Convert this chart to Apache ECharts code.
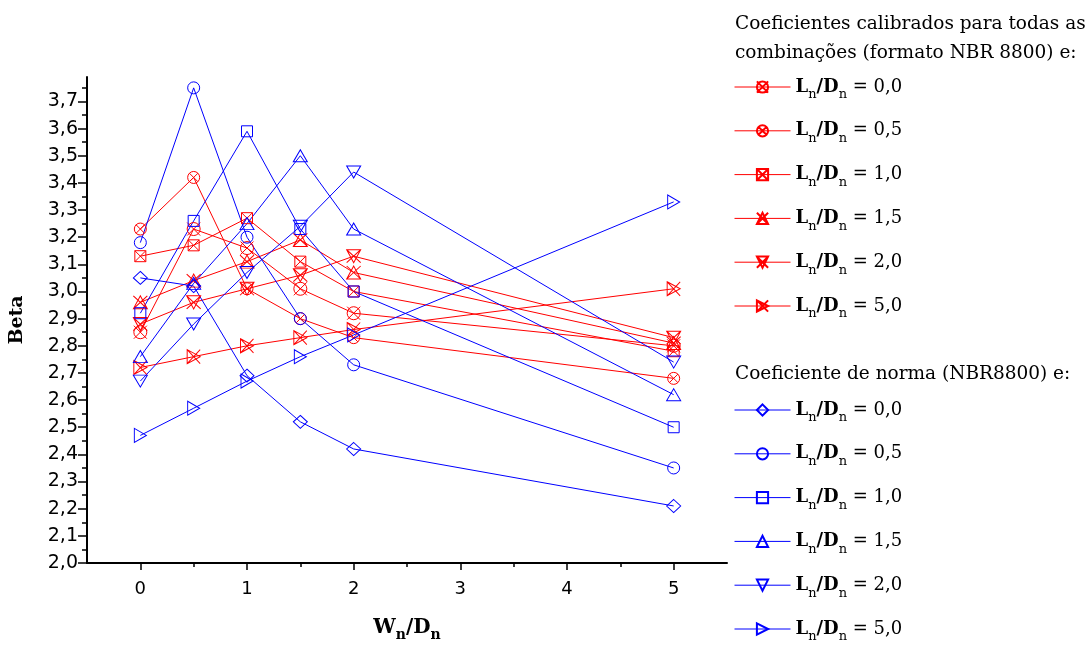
<!DOCTYPE html>
<html><head><meta charset="utf-8">
<script src="https://cdn.jsdelivr.net/npm/echarts@6/dist/echarts.min.js"></script>
<style>html,body{margin:0;padding:0;background:#fff}#c{width:1091px;height:646px}</style>
</head><body><div id="c"></div>
<script>
// ---- data ----
const xValues = [0, 0.5, 1, 1.5, 2, 5];
// calibrated coefficients (red)
const calib00 = [2.85, 3.23, 3.16, 3.01, 2.92, 2.80];
const calib05 = [3.23, 3.42, 3.01, 2.90, 2.83, 2.68];
const calib10 = [3.13, 3.17, 3.27, 3.11, 3.00, 2.78];
const calib15 = [2.96, 3.04, 3.11, 3.19, 3.07, 2.81];
const calib20 = [2.88, 2.96, 3.01, 3.06, 3.13, 2.83];
const calib50 = [2.72, 2.76, 2.80, 2.83, 2.86, 3.01];
// code coefficients NBR8800 (blue)
const norm00 = [3.05, 3.02, 2.69, 2.52, 2.42, 2.21];
const norm05 = [3.18, 3.75, 3.20, 2.90, 2.73, 2.35];
const norm10 = [2.92, 3.26, 3.59, 3.23, 3.00, 2.50];
const norm15 = [2.76, 3.03, 3.25, 3.50, 3.23, 2.62];
const norm20 = [2.67, 2.88, 3.07, 3.24, 3.44, 2.74];
const norm50 = [2.47, 2.57, 2.67, 2.76, 2.84, 3.33];
const ratioLabels = ['0,0', '0,5', '1,0', '1,5', '2,0', '5,0'];
const xTickValues = [0, 1, 2, 3, 4, 5];
const xMinorTickValues = [0.5, 1.5, 2.5, 3.5, 4.5];
const yTickValues = [2.0, 2.1, 2.2, 2.3, 2.4, 2.5, 2.6, 2.7, 2.8, 2.9, 3.0, 3.1, 3.2, 3.3, 3.4, 3.5, 3.6, 3.7];
const yMinorTickValues = [2.05, 2.15, 2.25, 2.35, 2.45, 2.55, 2.65, 2.75, 2.85, 2.95, 3.05, 3.15, 3.25, 3.35, 3.45, 3.55, 3.65, 3.75];
const headerCalib = 'Coeficientes calibrados para todas as\ncombinações (formato NBR 8800) e:';
const headerNorm = 'Coeficiente de norma (NBR8800) e:';
const yAxisTitle = 'Beta';

// ---- styling ----
const RED = '#ff0000', BLUE = '#0000ff';
const X = ' M0,0 L10,10 M10,0 L0,10';
const SYM = {
  circleXbig: 'path://M0,5 A5,5 0 1,1 10,5 A5,5 0 1,1 0,5 Z' + X,
  circleX: 'path://M0,5 A5,5 0 1,1 10,5 A5,5 0 1,1 0,5 Z M1.46,1.46 L8.54,8.54 M8.54,1.46 L1.46,8.54',
  squareX: 'path://M0,0 L10,0 L10,10 L0,10 Z' + X,
  triUpX: 'path://M0,10 L5,0 L10,10 Z' + X,
  triDownX: 'path://M0,0 L10,0 L5,10 Z' + X,
  triRightX: 'path://M0,0 L10,5 L0,10 Z' + X,
  diamond: 'path://M5,0 L10,5 L5,10 L0,5 Z',
  circle: 'path://M0,5 A5,5 0 1,1 10,5 A5,5 0 1,1 0,5 Z',
  square: 'path://M0,0 L10,0 L10,10 L0,10 Z',
  triUp: 'path://M0,10 L5,0 L10,10 Z',
  triDown: 'path://M0,0 L10,0 L5,10 Z',
  triRight: 'path://M0,0 L10,5 L0,10 Z'
};

const calibSets = [calib00, calib05, calib10, calib15, calib20, calib50];
const normSets = [norm00, norm05, norm10, norm15, norm20, norm50];
const calibSym = [['circleXbig', [13, 13]], ['circleX', [12, 12]], ['squareX', [11, 11]], ['triUpX', [14, 13]], ['triDownX', [14, 13]], ['triRightX', [13, 14]]];
const normSym = [['diamond', [14, 13]], ['circle', [12, 12]], ['square', [11, 11]], ['triUp', [14, 12]], ['triDown', [14, 12]], ['triRight', [12, 14]]];
const calibNames = ratioLabels.map(r => 'calib ' + r);
const normNames = ratioLabels.map(r => 'norma ' + r);

function mkSeries(name, vals, sym, color) {
  return {
    name: name, type: 'line', xAxisIndex: 0, yAxisIndex: 0,
    data: xValues.map((x, i) => [x, vals[i]]),
    symbol: SYM[sym[0]], symbolSize: sym[1],
    lineStyle: { color: color, width: 1 },
    itemStyle: { color: 'rgba(255,255,255,0)', borderColor: color, borderWidth: 1 },
    emphasis: { disabled: true }, silent: true
  };
}
const series = [];
calibSets.forEach((v, i) => series.push(mkSeries(calibNames[i], v, calibSym[i], RED)));
normSets.forEach((v, i) => series.push(mkSeries(normNames[i], v, normSym[i], BLUE)));

const SERIF = 'DejaVu Serif';
const legendRich = {
  b: { fontFamily: SERIF, fontWeight: 'bold', fontSize: 18, color: '#000' },
  s: { fontFamily: SERIF, fontSize: 13, color: '#000', padding: [16, 0, 0, 0] },
  r: { fontFamily: SERIF, fontSize: 18, color: '#000' }
};
function legendFmt(name) {
  const r = name.split(' ')[1];
  return '{b|L}{s|n}{b|/D}{s|n}{r| = ' + r + '}';
}
function mkLegend(names, top) {
  return {
    data: names, orient: 'vertical', left: 734, top: top, padding: 0,
    itemWidth: 56, itemHeight: 14, itemGap: 20.3, selectedMode: false,
    formatter: legendFmt, textStyle: { rich: legendRich },
    lineStyle: { width: 1 }
  };
}
const option = {
  animation: false,
  backgroundColor: '#fff',
  grid: { left: 87, right: 364, top: 77, bottom: 83, containLabel: false, outerBoundsMode: 'none' },
  title: [
    { text: headerCalib, left: 735, top: 10, padding: 0,
      textStyle: { fontFamily: SERIF, fontWeight: 'normal', fontSize: 18.5, lineHeight: 29, color: '#000' } },
    { text: headerNorm, left: 735, top: 360, padding: 0,
      textStyle: { fontFamily: SERIF, fontWeight: 'normal', fontSize: 18.5, lineHeight: 29, color: '#000' } }
  ],
  legend: [mkLegend(calibNames, 78), mkLegend(normNames, 401)],
  xAxis: [
    { type: 'value', min: -0.5, max: 5.5, interval: 0.5, position: 'bottom',
      axisLine: { onZero: false, lineStyle: { color: '#000', width: 2 } },
      axisTick: { show: true, customValues: xTickValues, length: 7, lineStyle: { color: '#000', width: 1.5 } },
      axisLabel: { customValues: xTickValues, formatter: v => String(v), fontFamily: 'DejaVu Sans', fontSize: 18, color: '#000', margin: 17 },
      splitLine: { show: false },
      name: '{b|W}{s|n}{b|/D}{s|n}', nameLocation: 'middle', nameGap: 51,
      nameTextStyle: { rich: {
        b: { fontFamily: SERIF, fontWeight: 'bold', fontSize: 20, color: '#000' },
        s: { fontFamily: SERIF, fontWeight: 'bold', fontSize: 14, color: '#000', padding: [14, 0, 0, 0] } } } },
    { type: 'value', min: -0.5, max: 5.5, interval: 0.5, position: 'bottom',
      axisLine: { show: false, onZero: false },
      axisTick: { show: true, customValues: xMinorTickValues, length: 4, lineStyle: { color: '#000', width: 1.5 } },
      axisLabel: { show: false }, splitLine: { show: false } }
  ],
  yAxis: [
    { type: 'value', min: 2.0, max: 3.79, interval: 0.1, position: 'left',
      axisLine: { show: true, onZero: false, lineStyle: { color: '#000', width: 2 } },
      axisTick: { show: true, customValues: yTickValues, length: 9, lineStyle: { color: '#000', width: 1.5 } },
      axisLabel: { customValues: yTickValues, formatter: v => v.toFixed(1).replace('.', ','), fontFamily: 'DejaVu Sans', fontSize: 19, color: '#000', margin: 9 },
      splitLine: { show: false },
      name: yAxisTitle, nameLocation: 'middle', nameGap: 60, nameRotate: 90,
      nameTextStyle: { fontFamily: SERIF, fontWeight: 'bold', fontSize: 19, color: '#000' } },
    { type: 'value', min: 2.0, max: 3.79, interval: 0.1, position: 'left',
      axisLine: { show: false, onZero: false },
      axisTick: { show: true, customValues: yMinorTickValues, length: 5, lineStyle: { color: '#000', width: 1.5 } },
      axisLabel: { show: false }, splitLine: { show: false } }
  ],
  series: series
};
const chart = echarts.init(document.getElementById('c'), null, { renderer: 'canvas' });
chart.setOption(option);
</script></body></html>
